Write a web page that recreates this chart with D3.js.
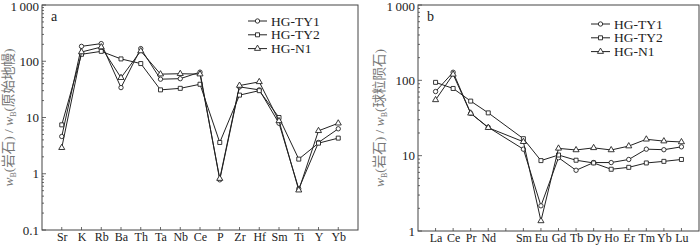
<!DOCTYPE html>
<html>
<head>
<meta charset="utf-8">
<script src="https://cdn.jsdelivr.net/npm/d3@7"></script>
<style>
  body { margin: 0; background: #fff; }
  svg text { font-family: "Liberation Serif", "Noto Sans CJK SC", serif; fill: #222; }
</style>
</head>
<body>
<div id="chart"></div>
<script>
// Trace elements (primitive mantle normalized)
const traceElements = ["Sr","K","Rb","Ba","Th","Ta","Nb","Ce","P","Zr","Hf","Sm","Ti","Y","Yb"];
const traceTY1 = [4.6, 184, 206, 34, 168, 48, 49, 64, 0.78, 35, 31, 7.9, 0.54, 3.6, 6.3];
const traceTY2 = [7.4, 133, 150, 110, 91, 31, 33, 39, 3.6, 25, 30, 10, 1.82, 3.5, 4.3];
const traceN1  = [2.9, 146, 179, 51, 152, 59, 60, 59, 0.82, 37, 43, 8.7, 0.51, 5.8, 7.9];

// REE (chondrite normalized); "" marks the empty Pm slot on the axis
const reeAxis = ["La","Ce","Pr","Nd","","Sm","Eu","Gd","Tb","Dy","Ho","Er","Tm","Yb","Lu"];
const reeElements = ["La","Ce","Pr","Nd","Sm","Eu","Gd","Tb","Dy","Ho","Er","Tm","Yb","Lu"];
const reeTY1 = [71, 128, 36.5, 23.8, 12.2, 2.16, 9.4, 6.4, 8.1, 8.1, 8.9, 12.2, 12.0, 13.1];
const reeTY2 = [94, 78, 53, 37, 16.8, 8.6, 10.2, 8.7, 8.0, 6.6, 7.0, 8.0, 8.4, 8.9];
const reeN1  = [55, 120, 36.5, 23.5, 15.3, 1.36, 12.5, 11.9, 12.7, 11.9, 13.4, 16.5, 15.6, 15.2];

const seriesNames = ["HG-TY1", "HG-TY2", "HG-N1"];
const seriesShapes = ["circle", "square", "triangle"];

const svg = d3.select("#chart").append("svg")
    .attr("width", 700)
    .attr("height", 245);

const symbols = {
  circle: d3.symbol().type(d3.symbolCircle).size(15),
  square: d3.symbol().type(d3.symbolSquare).size(16),
  triangle: d3.symbol().type(d3.symbolTriangle).size(16)
};

function fmt(v) {
  return v >= 1000 ? "1\u2009000" : String(v);
}

function drawPanel(opt) {
  let g = svg.append("g");

  let x = d3.scalePoint()
      .domain(opt.axisCats)
      .range([opt.left, opt.right])
      .padding(1);

  let y = d3.scaleLog()
      .domain(opt.yDomain)
      .range([opt.bottom, opt.top]);

  // frame
  g.append("rect")
      .attr("x", opt.left)
      .attr("y", opt.top)
      .attr("width", opt.right - opt.left)
      .attr("height", opt.bottom - opt.top)
      .attr("fill", "none")
      .attr("stroke", "#444")
      .attr("stroke-width", 1);

  // y axis: major ticks with labels, minor ticks inside
  let majors = y.ticks().filter(v => Math.abs(Math.log10(v) - Math.round(Math.log10(v))) < 1e-6);
  let yAxis = d3.axisLeft(y)
      .tickValues(majors)
      .tickSize(0)
      .tickPadding(3)
      .tickFormat(fmt);
  let ya = g.append("g")
      .attr("transform", `translate(${opt.left},0)`)
      .call(yAxis);
  ya.select(".domain").remove();
  ya.selectAll("text").attr("font-size", 13)
      .attr("dy", d => d >= 1000 ? "0.45em" : "0.32em");

  g.selectAll(".minor")
      .data(y.ticks())
      .enter().append("line")
      .attr("x1", opt.left)
      .attr("x2", d => majors.includes(d) ? opt.left + 4 : opt.left + 2)
      .attr("y1", d => y(d))
      .attr("y2", d => y(d))
      .attr("stroke", "#444")
      .attr("stroke-width", 0.8);

  // x axis
  let xAxis = d3.axisBottom(x)
      .tickSize(0)
      .tickPadding(2);
  let xa = g.append("g")
      .attr("transform", `translate(0,${opt.bottom})`)
      .call(xAxis);
  xa.select(".domain").remove();
  xa.selectAll("text").attr("font-size", 12);

  g.selectAll(".xtick")
      .data(opt.axisCats)
      .enter().append("line")
      .attr("x1", d => x(d))
      .attr("x2", d => x(d))
      .attr("y1", opt.bottom)
      .attr("y2", opt.bottom - 3)
      .attr("stroke", "#444")
      .attr("stroke-width", 0.8);

  // y axis title
  let title = g.append("text")
      .attr("transform", `translate(${opt.titleX},${(opt.top + opt.bottom) / 2}) rotate(-90)`)
      .attr("text-anchor", "middle")
      .attr("font-size", 13.5)
      .style("fill", "#777");
  title.append("tspan").attr("font-style", "italic").text("w");
  title.append("tspan").attr("font-size", 8).attr("dy", 3).text("B");
  title.append("tspan").attr("dy", -3).text("(岩石) / ");
  title.append("tspan").attr("font-style", "italic").text("w");
  title.append("tspan").attr("font-size", 8).attr("dy", 3).text("B");
  title.append("tspan").attr("dy", -3).text("(" + opt.ref + ")");

  // panel letter
  g.append("text")
      .attr("x", opt.left + 9)
      .attr("y", opt.top + 16)
      .attr("font-size", 14)
      .text(opt.letter);

  // series
  let line = d3.line()
      .x(d => x(d.cat))
      .y(d => y(d.v));

  opt.series.forEach((vals, i) => {
    let pts = opt.cats.map((c, j) => ({ cat: c, v: vals[j] }));
    g.append("path")
        .datum(pts)
        .attr("d", line)
        .attr("fill", "none")
        .attr("stroke", "#222")
        .attr("stroke-width", 1);
    g.selectAll(".pt" + i)
        .data(pts)
        .enter().append("path")
        .attr("d", symbols[seriesShapes[i]])
        .attr("transform", d => `translate(${x(d.cat)},${y(d.v)})`)
        .attr("fill", "#fff")
        .attr("stroke", "#222")
        .attr("stroke-width", 0.9);
  });

  // legend
  seriesNames.forEach((name, i) => {
    let ly = opt.legendY + i * 13.8;
    g.append("line")
        .attr("x1", opt.legendX)
        .attr("x2", opt.legendX + 19)
        .attr("y1", ly)
        .attr("y2", ly)
        .attr("stroke", "#222")
        .attr("stroke-width", 1);
    g.append("path")
        .attr("d", symbols[seriesShapes[i]])
        .attr("transform", `translate(${opt.legendX + 9.5},${ly})`)
        .attr("fill", "#fff")
        .attr("stroke", "#222")
        .attr("stroke-width", 0.9);
    g.append("text")
        .attr("x", opt.legendX + 23)
        .attr("y", ly + 4.5)
        .attr("font-size", 13.5)
        .text(name);
  });
}

drawPanel({
  left: 42, right: 358, top: 5, bottom: 230,
  yDomain: [0.1, 1000],
  axisCats: traceElements,
  cats: traceElements,
  series: [traceTY1, traceTY2, traceN1],
  letter: "a",
  ref: "原始地幔",
  titleX: 13,
  legendX: 248,
  legendY: 21
});

drawPanel({
  left: 418, right: 699, top: 5, bottom: 231,
  yDomain: [1, 1000],
  axisCats: reeAxis,
  cats: reeElements,
  series: [reeTY1, reeTY2, reeN1],
  letter: "b",
  ref: "球粒陨石",
  titleX: 384,
  legendX: 591,
  legendY: 24
});
</script>
</body>
</html>
